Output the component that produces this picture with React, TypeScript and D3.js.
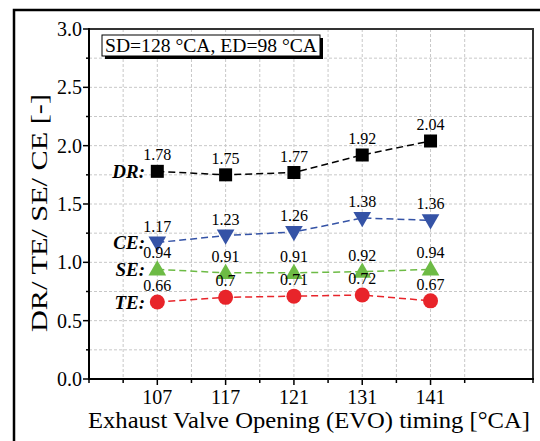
import React from "react";
import * as d3 from "d3";

const categories = ["107", "117", "121", "131", "141"];
const drValues = [1.78, 1.75, 1.77, 1.92, 2.04];
const ceValues = [1.17, 1.23, 1.26, 1.38, 1.36];
const seValues = [0.94, 0.91, 0.91, 0.92, 0.94];
const teValues = [0.66, 0.7, 0.71, 0.72, 0.67];
const yTicks = [0, 0.5, 1.0, 1.5, 2.0, 2.5, 3.0];
const yMinorTicks = [0.25, 0.75, 1.25, 1.75, 2.25, 2.75];
const legendText = "SD=128 °CA, ED=98 °CA";

const W = 540;
const H = 441;
const L = 89, R = 533, T = 29, B = 379;
const TS = { fontFamily: "Liberation Serif" };

export default function App() {
  const x = d3.scaleLinear().domain([-1, 5.5]).range([L, R]);
  const y = d3.scaleLinear().domain([0, 3]).range([B, T]);
  const xMinor = d3.range(-0.5, 5.51, 1);

  const series = [
    { name: "DR:", values: drValues, color: "#000000", shape: "square" },
    { name: "CE:", values: ceValues, color: "#3553a6", shape: "down" },
    { name: "SE:", values: seValues, color: "#6dbb45", shape: "up" },
    { name: "TE:", values: teValues, color: "#e8242a", shape: "circle" },
  ];

  const line = d3.line<number>().x((_, i) => x(i)).y((d) => y(d));

  const marker = (shape: string, cx: number, cy: number, color: string, key: string) => {
    if (shape === "square") return <rect key={key} x={cx - 6.5} y={cy - 6.5} width={13} height={13} fill={color} />;
    if (shape === "circle") return <circle key={key} cx={cx} cy={cy} r={7.5} fill={color} />;
    const sym = d3.symbol().type(d3.symbolTriangle).size(135)();
    const rot = shape === "down" ? 180 : 0;
    const dy = shape === "down" ? -1 : 1;
    return <path key={key} d={sym || ""} transform={`translate(${cx},${cy + dy}) rotate(${rot})`} fill={color} />;
  };

  const fmt = (v: number) => String(v);

  return (
    <svg width={W} height={H} style={{ position: "absolute", left: 0, top: 0 }}>
      <rect x={0} y={0} width={W} height={H} fill="#ffffff" />
      {/* outer frame */}
      <path d={`M14,${H} L14,10 L${W},10`} fill="none" stroke="#000" strokeWidth={2.5} />

      {/* grid */}
      {[...yTicks.slice(1, -1), ...yMinorTicks].map((v, i) => (
        <line key={"gy" + i} x1={L} x2={R} y1={y(v)} y2={y(v)} stroke="#c8c8c8" strokeWidth={1} strokeDasharray="3,2" />
      ))}
      {[...categories.map((_, i) => i), ...xMinor].map((v, i) => (
        <line key={"gx" + i} x1={x(v)} x2={x(v)} y1={T} y2={B} stroke="#c8c8c8" strokeWidth={1} strokeDasharray="3,2" />
      ))}

      {/* top and right borders */}
      <path d={`M${L},${T} L${R},${T} L${R},${B}`} fill="none" stroke="#333" strokeWidth={2} />

      {/* axes */}
      <line x1={L} x2={L} y1={T - 1} y2={B + 1} stroke="#000" strokeWidth={2} />
      <line x1={L - 1} x2={R + 1} y1={B} y2={B} stroke="#000" strokeWidth={2} />
      {yTicks.map((v) => (
        <g key={"yt" + v}>
          <line x1={L - 6} x2={L} y1={y(v)} y2={y(v)} stroke="#000" strokeWidth={1.5} />
          <text style={TS} x={L - 7} y={y(v)} dy="0.35em" textAnchor="end" fontSize={20}>{v.toFixed(1)}</text>
        </g>
      ))}
      {yMinorTicks.map((v) => (
        <line key={"ym" + v} x1={L - 3} x2={L} y1={y(v)} y2={y(v)} stroke="#000" strokeWidth={1.5} />
      ))}
      {categories.map((c, i) => (
        <g key={"xt" + c}>
          <line x1={x(i)} x2={x(i)} y1={B} y2={B + 6} stroke="#000" strokeWidth={1.5} />
          <text style={TS} x={x(i)} y={B + 25} textAnchor="middle" fontSize={20}>{c}</text>
        </g>
      ))}
      {[-1, ...xMinor].map((v) => (
        <line key={"xm" + v} x1={x(v)} x2={x(v)} y1={B} y2={B + 4} stroke="#000" strokeWidth={1.5} />
      ))}

      {/* axis titles */}
      <text style={TS} x={309} y={428} textAnchor="middle" fontSize={24} textLength={442} lengthAdjust="spacingAndGlyphs">Exhaust Valve Opening (EVO) timing [°CA]</text>
      <text style={TS} transform={`translate(47,213) rotate(-90)`} textAnchor="middle" fontSize={24} textLength={238} lengthAdjust="spacingAndGlyphs">DR/ TE/ SE/ CE [-]</text>

      {/* legend box */}
      <rect x={105} y={38} width={218} height={21} fill="#000" />
      <rect x={102} y={35} width={218} height={21} fill="#fff" stroke="#000" strokeWidth={1} />
      <text style={TS} x={211} y={52} textAnchor="middle" fontSize={18} textLength={212} lengthAdjust="spacingAndGlyphs">{legendText}</text>

      {/* series */}
      {series.map((s) => (
        <g key={s.name}>
          <path d={line(s.values) || ""} fill="none" stroke={s.color} strokeWidth={1.5} strokeDasharray="7,4" />
          {s.values.map((v, i) => marker(s.shape, x(i), y(v), s.color, s.name + i))}
          {s.values.map((v, i) => (
            <text style={TS} key={"l" + s.name + i} x={x(i)} y={y(v) - 11} textAnchor="middle" fontSize={16}>{fmt(v)}</text>
          ))}
          <text style={TS} x={145} y={y(s.values[0])} dy="0.35em" textAnchor="end" fontSize={19} fontWeight="bold" fontStyle="italic">{s.name}</text>
        </g>
      ))}
    </svg>
  );
}
